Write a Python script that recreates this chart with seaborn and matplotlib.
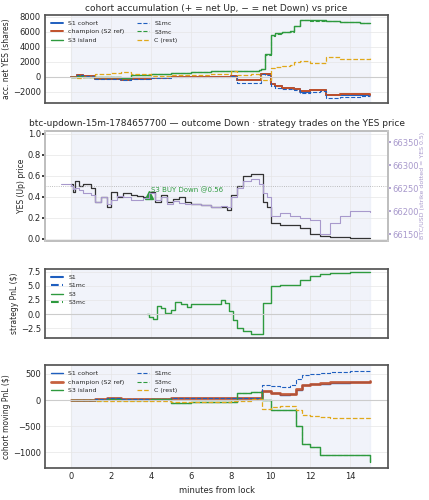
import numpy as np
import matplotlib
matplotlib.use("Agg")
import matplotlib.pyplot as plt
import seaborn as sns

sns.set_theme(style="whitegrid")
plt.rcParams['font.family'] = ['DejaVu Sans']

BLUE = '#1f5fbf'
RED = '#c0502a'
GREEN = '#2e9a3e'
GOLD = '#e0a81a'
LAV = '#a899cc'

# panel 1: cohort accumulation (shares)
t1 = [0, 0.3, 0.6, 1.2, 2.0, 2.5, 3.0, 4.0, 5.0, 6.0, 7.0, 8.0, 8.3, 9.0, 9.4, 9.5, 9.7, 10.0, 10.2, 10.6, 11.0, 11.2, 11.5, 12.0, 12.5, 12.8, 13.5, 14.0, 14.5, 15.0]
s1_cohort = [0, 200, 100, -300, -300, -500, -300, -200, -100, -50, 0, 100, -500, -500, -500, 300, 300, -1000, -1300, -1500, -1500, -1700, -2000, -1800, -1800, -2500, -2400, -2400, -2400, -2500]
champion = [0, 180, 90, -350, -350, -480, -320, -220, -120, -60, 0, 80, -480, -480, -480, 320, 280, -1050, -1300, -1500, -1500, -1700, -1950, -1800, -1750, -2450, -2350, -2350, -2350, -2450]
s3_island = [0, 100, 0, -100, -100, -150, 200, 400, 500, 600, 700, 700, 700, 800, 900, 1000, 3000, 5500, 5800, 6000, 6100, 6800, 7600, 7500, 7500, 7400, 7300, 7300, 7200, 7100]
s1mc = [0, 150, 50, -300, -300, -450, -300, -200, -100, -50, 0, 100, -800, -900, -800, 300, 200, -1200, -1500, -1600, -1600, -1800, -2200, -2000, -1900, -2900, -2700, -2700, -2600, -2600]
s3mc = [0, 100, 0, -120, -120, -170, 180, 380, 480, 580, 680, 690, 690, 790, 880, 980, 2900, 5400, 5700, 5900, 6000, 6700, 7500, 7450, 7450, 7350, 7250, 7250, 7150, 7050]
c_rest = [0, -200, 0, 400, 500, 600, 300, 100, 150, 200, 300, 700, 200, 300, 100, -400, -500, 1200, 1300, 1400, 1500, 1900, 2100, 1800, 1800, 2600, 2400, 2400, 2400, 2500]

# panel 2: YES price and BTC
t2 = [-0.5, -0.2, 0.0, 0.1, 0.2, 0.4, 0.6, 1.0, 1.2, 1.5, 1.8, 2.0, 2.3, 2.6, 3.0, 3.3, 3.6, 3.9, 4.2, 4.5, 4.8, 5.1, 5.4, 5.7, 6.0, 6.5, 7.0, 7.5, 7.8, 8.0, 8.3, 8.6, 9.0, 9.4, 9.6, 9.8, 10.0, 10.5, 11.0, 11.5, 12.0, 12.5, 13.0, 13.5, 14.0, 15.0]
yes_px = [np.nan, np.nan, 0.52, 0.45, 0.55, 0.50, 0.52, 0.48, 0.35, 0.40, 0.30, 0.45, 0.40, 0.44, 0.42, 0.41, 0.40, 0.45, 0.35, 0.42, 0.35, 0.38, 0.40, 0.35, 0.33, 0.32, 0.30, 0.30, 0.28, 0.42, 0.50, 0.60, 0.62, 0.62, 0.35, 0.30, 0.15, 0.13, 0.13, 0.10, 0.05, 0.03, 0.02, 0.02, 0.01, 0.01]
btc = [66260, 66260, 66255, 66248, 66250, 66245, 66240, 66235, 66220, 66230, 66215, 66225, 66232, 66230, 66225, 66225, 66228, 66240, 66225, 66230, 66215, 66222, 66218, 66215, 66215, 66213, 66210, 66212, 66210, 66230, 66250, 66265, 66270, 66260, 66240, 66230, 66190, 66195, 66190, 66185, 66180, 66150, 66175, 66190, 66200, 66198]

# panel 3: strategy PnL
t3 = [3.8, 3.9, 4.1, 4.3, 4.5, 4.7, 5.0, 5.2, 5.5, 5.8, 6.0, 6.5, 7.0, 7.5, 7.7, 7.9, 8.1, 8.3, 8.6, 9.0, 9.5, 9.6, 10.0, 10.5, 11.0, 11.5, 12.0, 12.5, 13.0, 14.0, 15.0]
s3_pnl = [0, -0.5, -0.8, 1.5, 1.0, 0.2, 0.8, 2.2, 1.8, 1.2, 1.8, 1.7, 1.7, 2.5, 2.0, 0.5, -1.0, -2.5, -3.0, -3.5, -3.5, 2.0, 5.0, 5.1, 5.2, 6.0, 6.8, 7.0, 7.2, 7.4, 7.5]

# panel 4: cohort moving PnL
t4 = [0, 1.2, 1.8, 2.5, 4.0, 5.0, 6.0, 7.0, 8.0, 8.3, 9.0, 9.5, 9.55, 10.0, 10.5, 11.0, 11.3, 11.6, 12.0, 12.5, 13.0, 14.0, 15.0]
m_s1 = [0, 20, 40, 10, 20, 30, 30, 35, 35, 35, 30, 30, 170, 130, 100, 110, 200, 280, 300, 310, 330, 340, 360]
m_champ = [0, 25, 45, 15, 25, 35, 35, 40, 40, 40, 35, 35, 180, 140, 110, 120, 210, 290, 310, 320, 340, 350, 370]
m_s3 = [0, 0, 10, 0, 10, -50, -30, -40, -40, 140, 150, 150, 0, -200, -200, -200, -500, -850, -900, -1050, -1050, -1050, -1180]
m_s1mc = [0, 20, 30, 10, 20, 30, 30, 35, 35, 35, 30, 30, 280, 270, 250, 280, 400, 470, 490, 520, 530, 550, 570]
m_s3mc = [0, 0, 10, 0, 10, -50, -30, -40, -40, 140, 150, 150, 0, -200, -200, -200, -500, -850, -900, -1050, -1050, -1050, -1180]
m_c = [0, -10, -20, -10, -10, -30, -30, -40, -20, -10, 10, 10, -180, -130, -120, -110, -200, -280, -300, -330, -340, -350, -370]

fig, axes = plt.subplots(4, 1, figsize=(4.29, 5.0), dpi=100, sharex=True,
                         gridspec_kw=dict(height_ratios=[93, 117, 73, 108]))
fs = 6
for ax in axes:
    ax.axvspan(0, 15, color='#e8ecf7', alpha=0.6, zorder=0)
    ax.tick_params(labelsize=fs, length=2, pad=1)
    ax.grid(color='#e6e6e6', linewidth=0.5)
    for s in ax.spines.values():
        s.set_color('#555555')

ax = axes[0]
for x, y, c, ls, lw, lab in [(t1, s1_cohort, BLUE, '-', 1.4, 'S1 cohort'), (t1, champion, RED, '-', 1.4, 'champion (S2 ref)'),
                            (t1, s3_island, GREEN, '-', 1.0, 'S3 island'), (t1, s1mc, BLUE, '--', 0.8, 'S1mc'),
                            (t1, s3mc, GREEN, '--', 0.8, 'S3mc'), (t1, c_rest, GOLD, '--', 0.9, 'C (rest)')]:
    ax.step(x, y, where='post', color=c, ls=ls, lw=lw, label=lab)
ax.axhline(0, color='#cccccc', lw=0.8)
ax.set_ylim(-3500, 8200)
ax.set_yticks([-2000, 0, 2000, 4000, 6000, 8000])
ax.set_ylabel('acc. net YES (shares)', fontsize=fs - 0.5, labelpad=1)
ax.set_title('cohort accumulation (+ = net Up, − = net Down) vs price', fontsize=fs + 0.5, pad=3)
ax.legend(ncol=2, fontsize=fs - 1.5, loc='upper left', frameon=False)

ax = axes[1]
ax.step(t2, yes_px, where='post', color='#333333', lw=0.9)
ax.axhline(0.5, color='#aaaaaa', lw=0.6, ls=':')
ax.plot([3.9], [0.42], marker='^', color=GREEN, ms=6)
ax.text(4.0, 0.44, 'S3 BUY Down @0.56', color=GREEN, fontsize=fs - 1)
ax.set_ylim(-0.02, 1.03)
ax.set_ylabel('YES (Up) price', fontsize=fs - 0.5, labelpad=1)
ax.set_title('btc-updown-15m-1784657700 — outcome Down · strategy trades on the YES price', fontsize=fs + 0.5, pad=3)
ax2 = ax.twinx()
ax2.step(t2, btc, where='post', color=LAV, lw=0.8)
ax2.set_ylim(66135, 66375)
ax2.set_yticks([66150, 66200, 66250, 66300, 66350])
ax2.tick_params(labelsize=fs, colors=LAV, length=2, pad=1)
ax2.set_ylabel('BTC/USD (strike dotted = YES 0.5)', fontsize=fs - 1.5, color=LAV, labelpad=1)
ax2.grid(False)

ax = axes[2]
ax.plot([], [], color=BLUE, label='S1')
ax.plot([], [], color=BLUE, ls='--', label='S1mc')
ax.step(t3, s3_pnl, where='post', color=GREEN, lw=1.0, label='S3')
ax.plot([], [], color=GREEN, ls='--', label='S3mc')
ax.axhline(0, color='#cccccc', lw=0.8)
ax.set_ylim(-4.2, 8)
ax.set_yticks([-2.5, 0, 2.5, 5.0, 7.5])
ax.set_ylabel('strategy PnL ($)', fontsize=fs - 0.5, labelpad=1)
ax.legend(fontsize=fs - 1.5, loc='upper left', frameon=False)

ax = axes[3]
for y, c, ls, lw, lab in [(m_s1, BLUE, '-', 1.0, 'S1 cohort'), (m_champ, RED, '-', 2.0, 'champion (S2 ref)'),
                          (m_s3, GREEN, '-', 1.0, 'S3 island'), (m_s1mc, BLUE, '--', 0.8, 'S1mc'),
                          (m_s3mc, GREEN, '--', 0.8, 'S3mc'), (m_c, GOLD, '--', 0.9, 'C (rest)')]:
    ax.step(t4, y, where='post', color=c, ls=ls, lw=lw, label=lab, alpha=0.9 if lab.startswith('champ') else 1)
ax.axhline(0, color='#cccccc', lw=0.8)
ax.set_ylim(-1290, 660)
ax.set_yticks([-1000, -500, 0, 500])
ax.set_ylabel('cohort moving PnL ($)', fontsize=fs - 0.5, labelpad=1)
ax.set_xlabel('minutes from lock', fontsize=fs)
ax.set_xlim(-1.3, 15.9)
ax.set_xticks([0, 2, 4, 6, 8, 10, 12, 14])
ax.legend(ncol=2, fontsize=fs - 1.5, loc='upper left', frameon=False)

fig.subplots_adjust(left=0.105, right=0.905, top=0.97, bottom=0.065, hspace=0.3)
fig.savefig('out.png')
